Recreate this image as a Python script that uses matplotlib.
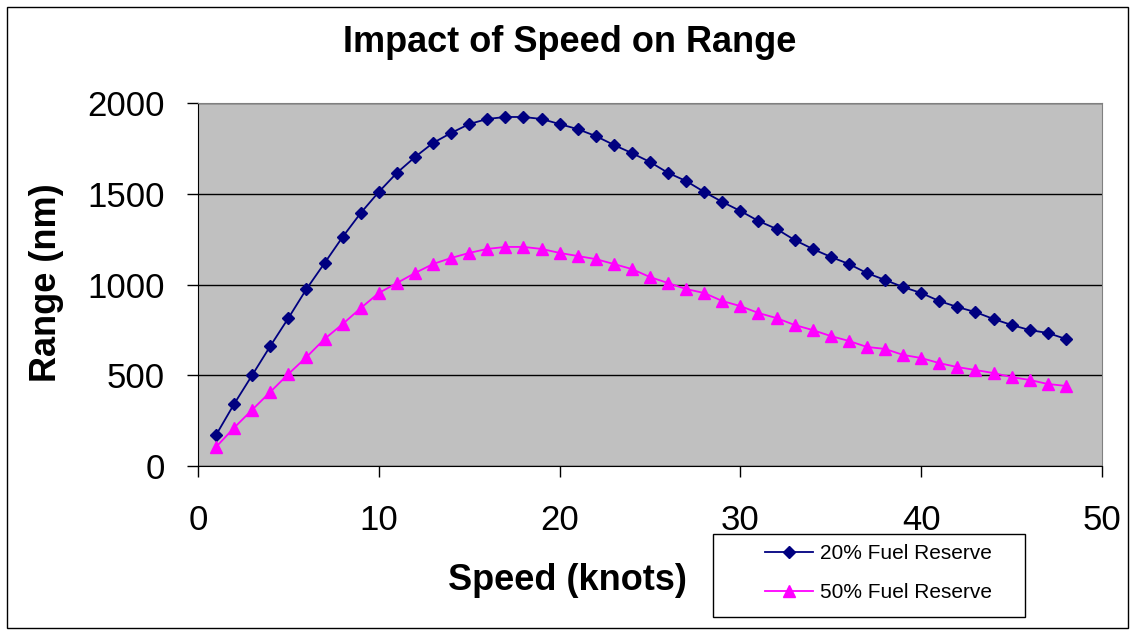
import numpy as np
import matplotlib.pyplot as plt
from matplotlib.patches import Rectangle

plt.rcParams['font.family'] = ['Liberation Sans', 'DejaVu Sans']

# Data
speed = list(range(1, 49))
range_20 = [171, 342, 501, 661, 815, 975, 1118, 1262, 1394, 1510,
            1615, 1702, 1780, 1835, 1884, 1912, 1923, 1923, 1912, 1884,
            1856, 1818, 1769, 1724, 1675, 1615, 1570, 1510, 1455, 1405,
            1350, 1306, 1245, 1196, 1152, 1113, 1063, 1025, 986, 953,
            909, 876, 848, 810, 777, 749, 733, 700]
range_50 = [105, 211, 310, 408, 507, 600, 700, 782, 870, 953,
            1008, 1063, 1113, 1146, 1174, 1196, 1207, 1207, 1196, 1174,
            1157, 1140, 1113, 1085, 1041, 1008, 975, 953, 909, 881,
            843, 815, 777, 749, 716, 689, 656, 645, 612, 595,
            567, 545, 529, 512, 490, 474, 452, 441]

W, H = 1135, 633
fig = plt.figure(figsize=(W / 100, H / 100), dpi=100)
ax = fig.add_axes([198 / W, 1 - 466 / H, (1102 - 198) / W, (466 - 103) / H])
ax.set_facecolor('#C0C0C0')

ax.plot(speed, range_20, color='#000080', marker='D', markersize=6.5, lw=1.3,
        label='20% Fuel Reserve', zorder=3)
ax.plot(speed, range_50, color='#FF00FF', marker='^', markersize=8.5, lw=1.3,
        label='50% Fuel Reserve', zorder=3)

ax.set_xlim(0, 50)
ax.set_ylim(0, 2000)
ax.set_xticks([0, 10, 20, 30, 40, 50])
ax.set_yticks([0, 500, 1000, 1500, 2000])
ax.yaxis.grid(True, color='black', lw=1)
ax.set_axisbelow(True)
ax.tick_params(labelsize=25, length=8, width=1, direction='out')
ax.tick_params(axis='y', pad=16)
ax.tick_params(axis='x', pad=19)

for s in ['top', 'right']:
    ax.spines[s].set_color('#808080')
for s in ['left', 'bottom']:
    ax.spines[s].set_color('black')

ax.set_xlabel('Speed (knots)', fontsize=26, fontweight='bold', va='center')
ax.xaxis.set_label_coords((567 - 198) / 904, (466 - 580) / 363)
ax.set_ylabel('Range (nm)', fontsize=26, fontweight='bold', va='center')
ax.yaxis.set_label_coords((47 - 198) / 904, (466 - 283) / 363)
fig.text(570 / W, 1 - 43 / H, 'Impact of Speed on Range', fontsize=26,
         fontweight='bold', ha='center', va='center')

leg = fig.legend(loc='center left', bbox_to_anchor=(755 / W, 1 - 573 / H),
                 fontsize=15, frameon=False, handlelength=2.3,
                 handletextpad=0.3, labelspacing=0.95, borderpad=0)
fig.patches.append(Rectangle((713 / W, 1 - 617 / H), (1025 - 713) / W, (617 - 534) / H,
                             transform=fig.transFigure, fill=True, facecolor='white',
                             edgecolor='black', lw=1))

fig.patches.append(Rectangle((7 / W, 5 / H), (1128 - 7) / W, (626 - 5) / H,
                             transform=fig.transFigure, fill=False,
                             edgecolor='black', lw=1))

fig.savefig('out.png', dpi=100)
